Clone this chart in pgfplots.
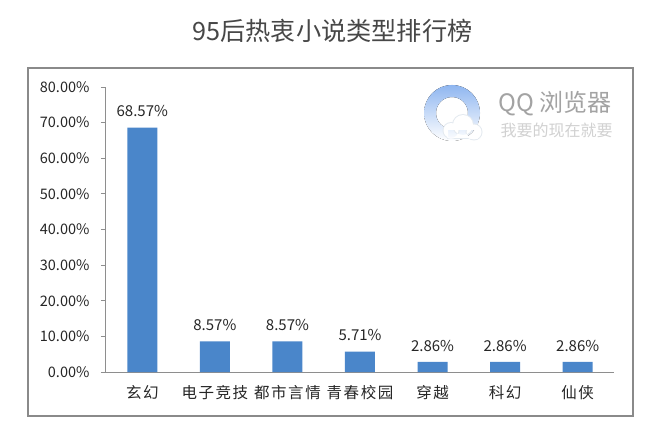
\documentclass[border=0pt]{standalone}
\usepackage{fontspec}
\usepackage{pgfplots}
\pgfplotsset{compat=1.18}
\setmainfont{Noto Sans CJK SC}
\newfontfamily\catfont[LetterSpace=10]{Noto Sans CJK SC}
\definecolor{barblue}{HTML}{4A86CA}
\definecolor{axisgray}{HTML}{8E8E8E}
\definecolor{framegray}{HTML}{8A8A8A}
\definecolor{txt}{HTML}{262626}
\definecolor{logotop}{HTML}{8FB6F0}
\definecolor{logomid}{HTML}{A5D5FB}
\definecolor{cloudedge}{HTML}{E4EAF0}
\begin{document}
\begin{tikzpicture}[x=1pt,y=1pt]
\path[use as bounding box,fill=white] (0,0) rectangle (670,432);
\node[text=black!72,font=\fontsize{25.2}{28}\selectfont] at (332.5,401) {95后热衷小说类型排行榜};
\draw[framegray,line width=1.5pt] (28,16) rectangle (633,364);
\begin{axis}[
  at={(106pt,60pt)}, anchor=south west,
  scale only axis,
  width=508pt, height=285pt,
  ybar,
  bar width=30pt,
  xmin=-0.5, xmax=6.5,
  ymin=0, ymax=80,
  axis lines=left,
  axis line style={axisgray,line width=1pt,-},
  xtick=data,
  xticklabels={玄幻,电子竞技,都市言情,青春校园,穿越,科幻,仙侠},
  xticklabel style={font=\catfont\fontsize{15.5}{17}\selectfont,text=txt,yshift=-4.5pt},
  x tick style={draw=none},
  minor xtick={-0.5,0.5,1.5,2.5,3.5,4.5,5.5,6.5},
  minor x tick style={axisgray,line width=1pt},
  minor tick length=5pt,
  tick align=outside,
  ytick={0,10,...,80},
  y tick style={axisgray,line width=1pt},
  major tick length=5pt,
  yticklabels={0.00\%,10.00\%,20.00\%,30.00\%,40.00\%,50.00\%,60.00\%,70.00\%,80.00\%},
  yticklabel style={font=\fontsize{14.5}{16}\selectfont,text=txt,xshift=-8pt},
  nodes near coords={\pgfmathprintnumber[fixed,fixed zerofill,precision=2]{\pgfplotspointmeta}\%},
  nodes near coords style={font=\fontsize{15}{17}\selectfont,text=txt,yshift=7pt},
  /pgf/number format/assume math mode=true,
  clip=false,
]
\addplot[fill=barblue,draw=none] coordinates {(0,68.57) (1,8.57) (2,8.57) (3,5.71) (4,2.86) (5,2.86) (6,2.86)};
\end{axis}
% watermark
\fill[even odd rule,top color=logotop,middle color=logomid,bottom color=white]
  (452,319) circle (28) (452,319) circle (16);
\fill[cloudedge] (451,301.5) circle (8.5) (463,307) circle (11) (474,300) circle (8.5) (447,293) rectangle (478,302);
\fill[white] (451,301.5) circle (7.5) (463,307) circle (10) (474,300) circle (7.5) (448,294) rectangle (477,302);
\node[text=black!36,font=\fontsize{24}{26}\selectfont,anchor=west] at (495,328) {QQ 浏览器};
\node[text=black!18,font=\fontsize{16}{18}\selectfont,anchor=west] at (497,302) {我要的现在就要};
\end{tikzpicture}
\end{document}
